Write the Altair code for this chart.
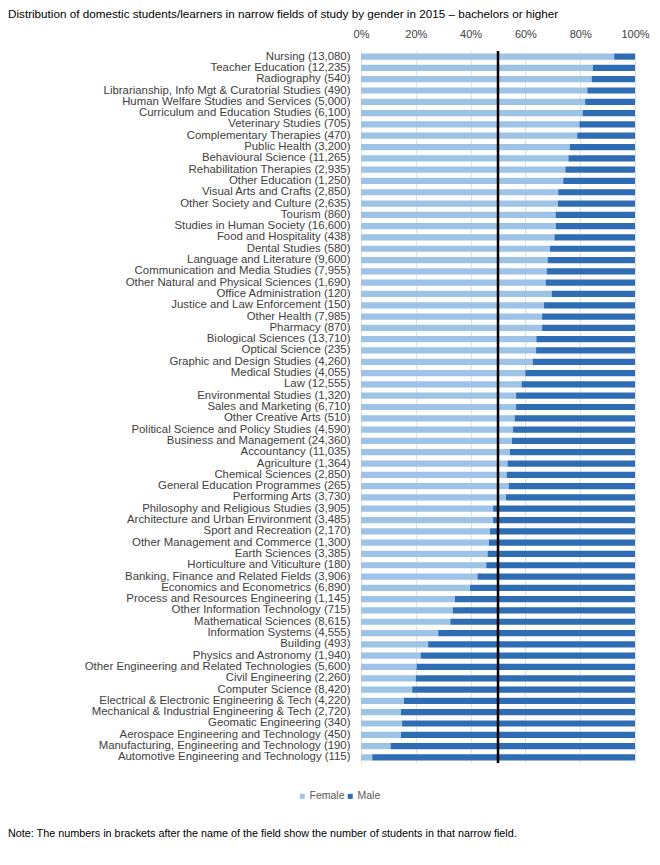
import altair as alt
import pandas as pd

fields = [
    "Nursing (13,080)", "Teacher Education (12,235)", "Radiography (540)",
    "Librarianship, Info Mgt & Curatorial Studies (490)",
    "Human Welfare Studies and Services (5,000)",
    "Curriculum and Education Studies (6,100)", "Veterinary Studies (705)",
    "Complementary Therapies (470)", "Public Health (3,200)",
    "Behavioural Science (11,265)", "Rehabilitation Therapies (2,935)",
    "Other Education (1,250)", "Visual Arts and Crafts (2,850)",
    "Other Society and Culture (2,635)", "Tourism (860)",
    "Studies in Human Society (16,600)", "Food and Hospitality (438)",
    "Dental Studies (580)", "Language and Literature (9,600)",
    "Communication and Media Studies (7,955)",
    "Other Natural and Physical Sciences (1,690)",
    "Office Administration (120)", "Justice and Law Enforcement (150)",
    "Other Health (7,985)", "Pharmacy (870)", "Biological Sciences (13,710)",
    "Optical Science (235)", "Graphic and Design Studies (4,260)",
    "Medical Studies (4,055)", "Law (12,555)", "Environmental Studies (1,320)",
    "Sales and Marketing (6,710)", "Other Creative Arts (510)",
    "Political Science and Policy Studies (4,590)",
    "Business and Management (24,360)", "Accountancy (11,035)",
    "Agriculture (1,364)", "Chemical Sciences (2,850)",
    "General Education Programmes (265)", "Performing Arts (3,730)",
    "Philosophy and Religious Studies (3,905)",
    "Architecture and Urban Environment (3,485)",
    "Sport and Recreation (2,170)", "Other Management and Commerce (1,300)",
    "Earth Sciences (3,385)", "Horticulture and Viticulture (180)",
    "Banking, Finance and Related Fields (3,906)",
    "Economics and Econometrics (6,890)",
    "Process and Resources Engineering (1,145)",
    "Other Information Technology (715)", "Mathematical Sciences (8,615)",
    "Information Systems (4,555)", "Building (493)",
    "Physics and Astronomy (1,940)",
    "Other Engineering and Related Technologies (5,600)",
    "Civil Engineering (2,260)", "Computer Science (8,420)",
    "Electrical & Electronic Engineering & Tech (4,220)",
    "Mechanical & Industrial Engineering & Tech (2,720)",
    "Geomatic Engineering (340)", "Aerospace Engineering and Technology (450)",
    "Manufacturing, Engineering and Technology (190)",
    "Automotive Engineering and Technology (115)",
]

female_pct = [
    92.4, 84.6, 84.2, 82.6, 81.8, 80.9, 79.7, 78.9, 76.2, 75.7,
    74.6, 73.8, 72.0, 71.9, 71.0, 71.1, 70.6, 69.0, 68.1, 67.8,
    67.4, 69.6, 66.8, 66.1, 66.1, 64.0, 63.9, 62.7, 60.0, 58.6,
    56.6, 56.6, 56.1, 55.5, 55.1, 54.3, 53.5, 53.2, 53.9, 52.9,
    48.2, 48.2, 47.1, 46.7, 46.2, 45.7, 42.5, 39.8, 34.3, 33.5,
    32.6, 28.2, 24.5, 21.8, 20.3, 20.0, 18.7, 15.7, 14.6, 15.0,
    14.6, 10.8, 4.1,
]

genders = ["Female", "Male"]
gender_colors = ["#9DC3E6", "#2E6DB4"]
tick_values = [0, 0.1, 0.2, 0.3, 0.4, 0.5, 0.6, 0.7, 0.8, 0.9, 1.0]
midline = [0.5]

title_text = "Distribution of domestic students/learners in narrow fields of study by gender in 2015 \u2013 bachelors or higher"
note_text = "Note: The numbers in brackets after the name of the field show the number of students in that narrow field."

rows = []
for f, p in zip(fields, female_pct):
    rows.append({"field": f, "gender": "Female", "pct": p / 100, "ord": 0})
    rows.append({"field": f, "gender": "Male", "pct": (100 - p) / 100, "ord": 1})
df = pd.DataFrame(rows)

FONT = "Liberation Sans"
W, H = 274, 712

bars = alt.Chart(df).mark_bar().encode(
    y=alt.Y(
        "field:N", sort=fields, title=None,
        scale=alt.Scale(paddingInner=0.45, paddingOuter=0.22),
        axis=alt.Axis(labelLimit=400, labelPadding=11, ticks=False, domain=False,
                      labelFontSize=11.4, labelColor="#404040", labelFont=FONT),
    ),
    x=alt.X(
        "pct:Q", stack="zero", title=None,
        scale=alt.Scale(domain=[0, 1], nice=False),
        axis=alt.Axis(orient="top", format=".0%", values=tick_values, ticks=False,
                      domain=False, grid=True, gridColor="#D9D9D9", gridWidth=0.8,
                      labelFontSize=11, labelColor="#404040", labelFont=FONT,
                      labelPadding=12, labelOverlap=False, labelFlush=False),
    ),
    color=alt.Color(
        "gender:N",
        scale=alt.Scale(domain=genders, range=gender_colors),
        legend=alt.Legend(orient="none", legendX=-64, legendY=740,
                          direction="horizontal", title=None, symbolType="square",
                          symbolSize=25, symbolStrokeWidth=0, labelFontSize=10.5,
                          labelFont=FONT, labelColor="#595959", labelOffset=2,
                          columnPadding=0),
    ),
    order=alt.Order("ord:Q"),
)

rule = alt.Chart(pd.DataFrame({"x": midline})).mark_rule(
    color="black", strokeWidth=2.5
).encode(x="x:Q")

title = alt.Chart(pd.DataFrame({"t": [title_text]})).mark_text(
    align="left", baseline="middle", fontSize=11.7, font=FONT, color="black"
).encode(x=alt.value(-353), y=alt.value(-37), text="t:N")

note = alt.Chart(pd.DataFrame({"t": [note_text]})).mark_text(
    align="left", baseline="middle", fontSize=10.8, font=FONT, color="black"
).encode(x=alt.value(-353), y=alt.value(783), text="t:N")

chart = alt.layer(bars, rule, title, note).properties(
    width=W, height=H,
    padding={"left": 0, "top": 1, "right": 0, "bottom": 0},
    background="white",
).configure_view(stroke=None)

chart.save("out.html", embed_options={"renderer": "svg", "actions": False})
